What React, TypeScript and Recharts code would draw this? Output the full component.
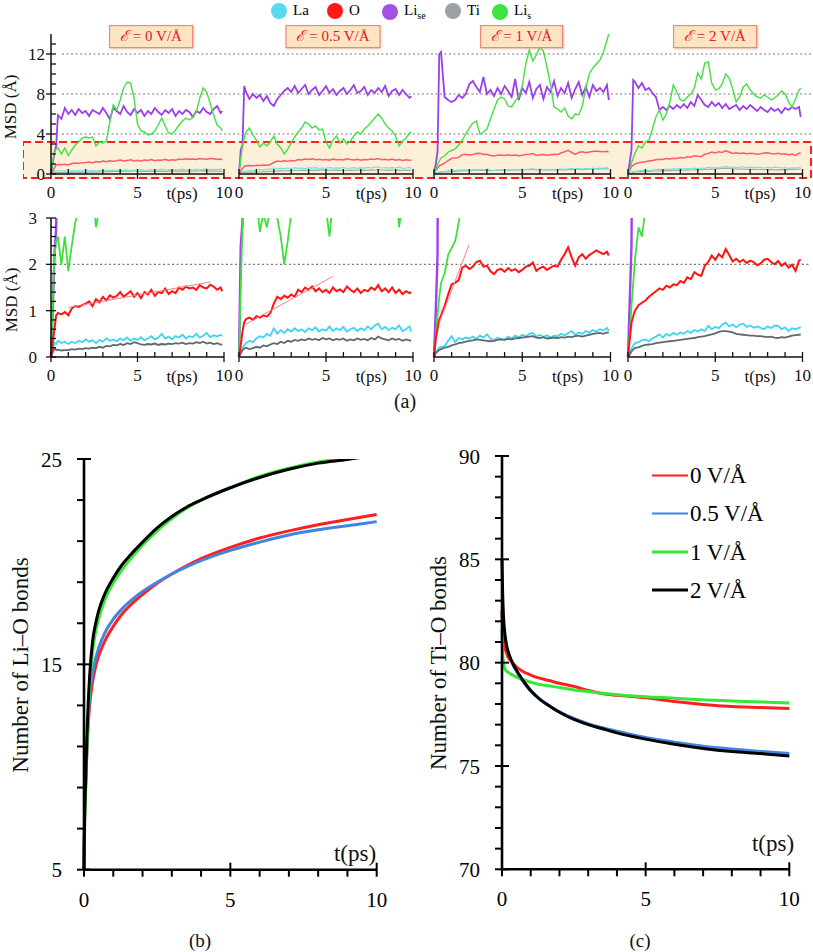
import React from 'react';
import { LineChart, Line, XAxis, YAxis, ReferenceLine, ReferenceArea } from 'recharts';

const FONT = '"Liberation Serif", "Times New Roman", serif';

// ---- (a) MSD runs, time grid in ps ----
const TIME = [0, 0.1, 0.2, 0.3, 0.4, 0.6, 0.8, 1, 1.2, 1.4, 1.6, 1.8, 2, 2.2, 2.4, 2.6, 2.8, 3, 3.2, 3.4, 3.6, 3.8, 4, 4.2, 4.4, 4.6, 4.8, 5, 5.2, 5.4, 5.6, 5.8, 6, 6.2, 6.4, 6.6, 6.8, 7, 7.2, 7.4, 7.6, 7.8, 8, 8.2, 8.4, 8.6, 8.8, 9, 9.2, 9.4, 9.6, 9.8, 9.9];

// E = 0 V/A
const LISE_0 = [0, 1.0, 2.2, 2.8, 5.9, 5.5, 6.6, 6.0, 6.4, 5.9, 6.5, 6.1, 6.3, 5.8, 6.4, 6.2, 6.0, 6.6, 6.1, 5.5, 6.6, 6.3, 6.0, 6.8, 6.2, 5.9, 6.5, 6.1, 6.4, 5.8, 6.3, 6.0, 6.6, 6.2, 5.9, 6.4, 6.1, 6.5, 5.8, 6.3, 6.0, 6.4, 6.2, 5.7, 6.3, 6.1, 6.6, 6.2, 6.0, 6.5, 6.8, 6.1, 6.3];
const LIS_0 = [0, 1.2, 2.2, 2.5, 2.6, 2.0, 2.6, 1.85, 2.4, 2.9, 3.2, 3.6, 3.7, 3.6, 3.7, 2.8, 3.2, 3.1, 3.3, 5.2, 6.9, 6.4, 7.4, 8.6, 9.2, 9.1, 7.6, 5.0, 4.3, 4.2, 3.9, 4.0, 4.3, 4.9, 5.6, 4.8, 4.1, 4.0, 4.4, 4.9, 5.3, 5.6, 5.4, 5.7, 6.2, 7.6, 8.6, 8.2, 7.1, 5.9, 4.9, 4.6, 4.3];
const O_0 = [0, 0.3, 0.6, 0.9, 0.95, 0.92, 0.97, 0.9, 1.05, 1.1, 1.08, 1.12, 1.15, 1.2, 1.1, 1.25, 1.18, 1.3, 1.22, 1.33, 1.28, 1.32, 1.4, 1.3, 1.36, 1.42, 1.3, 1.38, 1.27, 1.4, 1.35, 1.45, 1.32, 1.4, 1.38, 1.48, 1.36, 1.42, 1.38, 1.5, 1.45, 1.52, 1.48, 1.5, 1.45, 1.55, 1.5, 1.48, 1.56, 1.52, 1.45, 1.5, 1.42];
const LA_0 = [0, 0.15, 0.3, 0.28, 0.35, 0.3, 0.33, 0.28, 0.33, 0.3, 0.35, 0.32, 0.38, 0.33, 0.36, 0.3, 0.37, 0.33, 0.4, 0.35, 0.38, 0.34, 0.4, 0.36, 0.42, 0.35, 0.4, 0.37, 0.43, 0.36, 0.4, 0.45, 0.38, 0.42, 0.5, 0.4, 0.44, 0.38, 0.45, 0.42, 0.48, 0.4, 0.45, 0.43, 0.5, 0.42, 0.46, 0.52, 0.43, 0.47, 0.44, 0.48, 0.45];
const TI_0 = [0, 0.1, 0.18, 0.15, 0.16, 0.14, 0.15, 0.15, 0.17, 0.16, 0.18, 0.17, 0.19, 0.18, 0.2, 0.19, 0.22, 0.2, 0.24, 0.23, 0.26, 0.25, 0.28, 0.26, 0.3, 0.28, 0.32, 0.3, 0.27, 0.26, 0.28, 0.27, 0.29, 0.26, 0.28, 0.27, 0.29, 0.28, 0.3, 0.29, 0.31, 0.28, 0.3, 0.29, 0.32, 0.3, 0.33, 0.29, 0.31, 0.28, 0.3, 0.27, 0.26];

// E = 0.5 V/A
const LISE_05 = [0, 2.4, 2.9, 8.8, 8.2, 7.5, 8.0, 7.6, 7.9, 7.3, 7.8, 7.1, 6.8, 7.5, 7.9, 8.3, 8.6, 8.2, 8.8, 8.1, 8.5, 8.9, 8.0, 8.4, 8.7, 7.9, 8.3, 8.8, 8.1, 8.5, 7.9, 8.3, 8.6, 8.0, 8.4, 8.9, 8.1, 8.3, 8.7, 7.9, 8.4, 8.1, 8.6, 8.2, 8.8, 7.8, 8.3, 8.5, 7.9, 8.4, 8.0, 7.6, 7.8];
const LIS_05 = [0, 1.5, 2.8, 3.6, 4.2, 4.6, 3.9, 3.4, 2.7, 3.1, 2.8, 3.2, 3.8, 3.0, 2.6, 2.0, 2.5, 3.1, 3.7, 4.2, 4.6, 5.2, 5.0, 4.6, 4.8, 4.4, 4.5, 3.2, 2.6, 3.4, 3.8, 3.1, 3.5, 3.0, 3.3, 3.8, 4.2, 4.0, 4.5, 4.8, 5.2, 5.6, 6.0, 5.6, 5.0, 4.6, 4.3, 3.8, 2.8, 3.3, 3.6, 4.1, 4.2];
const O_05 = [0, 0.25, 0.55, 0.75, 0.82, 0.85, 0.8, 0.88, 0.85, 0.9, 0.87, 0.95, 1.15, 1.3, 1.25, 1.32, 1.28, 1.35, 1.3, 1.45, 1.4, 1.5, 1.45, 1.52, 1.42, 1.48, 1.4, 1.45, 1.38, 1.5, 1.42, 1.46, 1.4, 1.52, 1.45, 1.4, 1.48, 1.38, 1.45, 1.42, 1.5, 1.45, 1.55, 1.42, 1.48, 1.4, 1.5, 1.38, 1.45, 1.36, 1.42, 1.38, 1.4];
const LA_05 = [0, 0.1, 0.2, 0.25, 0.3, 0.35, 0.32, 0.4, 0.45, 0.42, 0.5, 0.46, 0.62, 0.5, 0.58, 0.52, 0.6, 0.55, 0.62, 0.56, 0.6, 0.54, 0.62, 0.58, 0.64, 0.55, 0.6, 0.57, 0.66, 0.56, 0.62, 0.58, 0.65, 0.55, 0.6, 0.63, 0.56, 0.62, 0.58, 0.66, 0.6, 0.68, 0.72, 0.6, 0.65, 0.58, 0.63, 0.6, 0.68, 0.56, 0.6, 0.66, 0.55];
const TI_05 = [0, 0.08, 0.15, 0.18, 0.2, 0.17, 0.19, 0.22, 0.2, 0.25, 0.23, 0.27, 0.3, 0.28, 0.33, 0.3, 0.35, 0.33, 0.37, 0.35, 0.38, 0.36, 0.4, 0.37, 0.39, 0.36, 0.41, 0.38, 0.4, 0.36, 0.39, 0.37, 0.4, 0.35, 0.38, 0.36, 0.4, 0.37, 0.39, 0.36, 0.41, 0.38, 0.44, 0.4, 0.38, 0.36, 0.4, 0.37, 0.39, 0.35, 0.38, 0.36, 0.35];

// E = 1 V/A
const LISE_1 = [0, 1.0, 2.2, 12.0, 12.2, 7.7, 7.4, 7.2, 7.4, 7.9, 7.6, 8.0, 9.0, 9.3, 8.7, 8.2, 9.7, 8.0, 8.4, 7.8, 8.6, 8.0, 8.8, 8.3, 7.7, 9.5, 7.4, 8.6, 8.1, 9.2, 7.6, 8.5, 8.9, 7.5, 8.7, 8.2, 9.3, 7.8, 8.6, 8.1, 9.1, 7.6, 8.5, 9.2, 7.9, 8.7, 7.7, 8.9, 8.3, 8.6, 8.2, 8.9, 7.4];
const LIS_1 = [0, 0.4, 0.9, 1.3, 1.6, 1.8, 2.2, 2.35, 2.5, 2.9, 3.4, 4.0, 4.6, 5.1, 5.3, 4.0, 4.2, 4.5, 5.5, 6.5, 7.4, 7.7, 7.5, 6.8, 6.7, 7.3, 7.7, 8.8, 11.0, 12.4, 11.3, 11.9, 12.7, 12.3, 10.7, 9.0, 6.7, 6.5, 6.2, 6.6, 5.8, 5.5, 6.0, 5.9, 6.8, 8.6, 10.0, 10.6, 11.0, 11.4, 12.2, 13.4, 14.0];
const O_1 = [0, 0.38, 0.6, 0.81, 0.9, 1.1, 1.35, 1.57, 1.6, 1.66, 1.93, 1.97, 1.9, 1.95, 2.05, 2.08, 1.95, 1.97, 1.85, 1.79, 1.88, 1.9, 1.84, 1.92, 1.86, 1.9, 1.83, 1.88, 1.95, 1.97, 2.04, 1.86, 1.92, 1.95, 1.88, 1.93, 1.97, 1.95, 2.1, 2.22, 2.37, 2.15, 1.97, 2.15, 2.22, 2.12, 2.2, 2.25, 2.3, 2.26, 2.22, 2.27, 2.19];
const LA_1 = [0, 0.09, 0.15, 0.2, 0.22, 0.23, 0.35, 0.45, 0.32, 0.41, 0.38, 0.42, 0.4, 0.44, 0.39, 0.46, 0.42, 0.49, 0.4, 0.36, 0.42, 0.38, 0.38, 0.44, 0.4, 0.46, 0.42, 0.48, 0.44, 0.5, 0.52, 0.44, 0.48, 0.43, 0.47, 0.42, 0.46, 0.45, 0.5, 0.47, 0.52, 0.56, 0.48, 0.53, 0.5, 0.56, 0.52, 0.58, 0.55, 0.6, 0.57, 0.63, 0.56];
const TI_1 = [0, 0.09, 0.12, 0.15, 0.17, 0.2, 0.22, 0.25, 0.27, 0.3, 0.31, 0.33, 0.35, 0.36, 0.38, 0.37, 0.36, 0.35, 0.34, 0.35, 0.37, 0.38, 0.37, 0.39, 0.38, 0.4, 0.41, 0.42, 0.43, 0.44, 0.45, 0.42, 0.41, 0.43, 0.4, 0.41, 0.42, 0.41, 0.43, 0.42, 0.44, 0.43, 0.45, 0.46, 0.44, 0.46, 0.48, 0.5, 0.51, 0.52, 0.5, 0.53, 0.52];

// E = 2 V/A
const LISE_2 = [0, 1.2, 2.4, 9.4, 9.2, 8.6, 9.1, 8.4, 8.6, 8.1, 7.7, 6.4, 6.7, 6.4, 6.8, 6.5, 6.9, 6.6, 7.0, 6.6, 7.2, 6.8, 7.9, 7.4, 6.9, 6.7, 7.2, 6.8, 7.1, 6.6, 7.0, 6.5, 6.7, 6.9, 6.4, 6.8, 6.5, 6.9, 6.6, 6.3, 6.7, 6.4, 6.2, 6.6, 6.3, 6.5, 6.1, 6.6, 6.4, 6.7, 6.5, 6.7, 5.7];
const LIS_2 = [0, 0.5, 1.1, 1.6, 2.1, 2.8, 2.6, 3.2, 3.4, 4.5, 5.7, 6.4, 5.4, 6.0, 7.2, 8.9, 8.2, 7.4, 7.3, 7.7, 8.0, 8.6, 10.1, 9.5, 11.1, 11.2, 9.1, 8.4, 8.5, 9.0, 10.0, 9.6, 8.5, 7.2, 7.7, 8.7, 9.0, 8.4, 8.0, 7.7, 7.6, 7.9, 7.7, 7.4, 7.6, 7.9, 8.3, 8.0, 7.2, 6.7, 7.5, 8.4, 8.6];
const O_2 = [0, 0.38, 0.74, 0.88, 1.0, 1.12, 1.17, 1.22, 1.3, 1.36, 1.42, 1.48, 1.45, 1.54, 1.5, 1.57, 1.55, 1.64, 1.6, 1.72, 1.68, 1.83, 1.78, 1.75, 1.97, 2.05, 2.19, 2.1, 2.22, 2.15, 2.33, 2.2, 2.06, 2.12, 2.05, 2.1, 2.03, 2.08, 2.05, 1.98, 2.02, 2.1, 2.12, 2.05, 2.0, 2.07, 1.97, 2.03, 1.93, 1.99, 1.86, 2.08, 2.1];
const LA_2 = [0, 0.09, 0.18, 0.25, 0.3, 0.32, 0.36, 0.38, 0.34, 0.4, 0.44, 0.49, 0.42, 0.5, 0.46, 0.52, 0.48, 0.53, 0.5, 0.56, 0.52, 0.58, 0.55, 0.6, 0.56, 0.67, 0.6, 0.65, 0.62, 0.7, 0.74, 0.66, 0.7, 0.64, 0.7, 0.72, 0.65, 0.68, 0.63, 0.66, 0.63, 0.6, 0.66, 0.62, 0.68, 0.67, 0.6, 0.64, 0.56, 0.62, 0.6, 0.63, 0.64];
const TI_2 = [0, 0.05, 0.12, 0.16, 0.2, 0.21, 0.24, 0.26, 0.27, 0.28, 0.3, 0.31, 0.32, 0.33, 0.34, 0.35, 0.36, 0.37, 0.38, 0.39, 0.4, 0.41, 0.43, 0.44, 0.45, 0.47, 0.49, 0.51, 0.54, 0.56, 0.56, 0.55, 0.53, 0.5, 0.49, 0.48, 0.47, 0.46, 0.46, 0.45, 0.45, 0.44, 0.43, 0.44, 0.42, 0.41, 0.43, 0.42, 0.44, 0.46, 0.47, 0.48, 0.49];

// thin linear fits on the O curves (start/end)
const FIT_0 = [{ t: 1.0, v: 1.07 }, { t: 9.2, v: 1.62 }];
const FIT_05 = [{ t: 0.4, v: 0.71 }, { t: 5.4, v: 1.74 }];
const FIT_1 = [{ t: 0.3, v: 0.74 }, { t: 1.98, v: 2.42 }];

const FIELDS = ['0', '0.5', '1', '2'];

const SPECIES = [
  { name: 'La', sub: '', color: '#5ad8ee' },
  { name: 'O', sub: '', color: '#ff1a1a' },
  { name: 'Li', sub: 'se', color: '#a452e6' },
  { name: 'Ti', sub: '', color: '#9aa2a5' },
  { name: 'Li', sub: 's', color: '#3fe23f' },
];

// ---- (b), (c) bond counts ----
const BOND_TIME = [0, 0.02, 0.05, 0.1, 0.15, 0.2, 0.3, 0.4, 0.5, 0.7, 1, 1.3, 1.6, 2, 2.5, 3, 3.5, 4, 5, 6, 7, 8, 9, 10];
const LIO_0 = [5, 7.5, 8.8, 10.8, 12.2, 13.1, 14.2, 14.9, 15.4, 16.1, 16.85, 17.45, 17.9, 18.4, 18.95, 19.4, 19.8, 20.15, 20.7, 21.15, 21.5, 21.8, 22.05, 22.3];
const LIO_05 = [5, 7.6, 9.0, 11.0, 12.5, 13.5, 14.6, 15.3, 15.8, 16.5, 17.2, 17.7, 18.1, 18.55, 19.0, 19.4, 19.75, 20.05, 20.55, 20.95, 21.3, 21.55, 21.75, 21.95];
const LIO_1 = [5, 7.0, 8.6, 11.0, 12.8, 14.1, 15.7, 16.6, 17.2, 18.1, 18.95, 19.6, 20.15, 20.8, 21.5, 22.1, 22.6, 23.0, 23.6, 24.15, 24.55, 24.85, 25.05, 25.3];
const LIO_2 = [5, 7.5, 9.0, 11.5, 13.3, 14.6, 16.2, 17.0, 17.6, 18.4, 19.2, 19.85, 20.35, 20.95, 21.65, 22.2, 22.65, 23.0, 23.6, 24.1, 24.5, 24.8, 24.98, 25.2];

const TIO_0 = [82.5, 81.8, 81.2, 80.7, 80.5, 80.3, 80.1, 79.95, 79.8, 79.6, 79.4, 79.25, 79.15, 79.0, 78.85, 78.65, 78.5, 78.42, 78.3, 78.12, 77.98, 77.88, 77.83, 77.78];
const TIO_05 = [82.5, 82.0, 81.6, 81.2, 80.8, 80.55, 80.15, 79.85, 79.6, 79.15, 78.62, 78.25, 77.95, 77.62, 77.3, 77.05, 76.85, 76.68, 76.38, 76.15, 75.95, 75.82, 75.7, 75.6];
const TIO_1 = [81.6, 80.6, 80.0, 79.7, 79.6, 79.55, 79.45, 79.38, 79.3, 79.2, 79.05, 78.95, 78.88, 78.8, 78.68, 78.6, 78.52, 78.45, 78.35, 78.28, 78.2, 78.15, 78.1, 78.05];
const TIO_2 = [85.0, 83.5, 82.3, 81.4, 80.9, 80.6, 80.2, 79.9, 79.65, 79.2, 78.65, 78.25, 77.95, 77.6, 77.25, 77.0, 76.8, 76.6, 76.3, 76.05, 75.85, 75.7, 75.6, 75.48];

const BOND_SERIES = [
  { key: 'e0', label: '0 V/Å', color: '#ff1f1f', legendWidth: 2 },
  { key: 'e05', label: '0.5 V/Å', color: '#3f86e0', legendWidth: 1.5 },
  { key: 'e1', label: '1 V/Å', color: '#36e836', legendWidth: 3 },
  { key: 'e2', label: '2 V/Å', color: '#000000', legendWidth: 3.5 },
];

const X_TICKS = [0, 1, 2, 3, 4, 5, 6, 7, 8, 9, 10];
const Y_TICKS_TOP = [0, 1, 2, 3, 4, 5, 6, 7, 8, 9, 10, 11, 12, 13];
const Y_TICKS_LOW = [0, 0.2, 0.4, 0.6, 0.8, 1, 1.2, 1.4, 1.6, 1.8, 2, 2.2, 2.4, 2.6, 2.8, 3];
const LIO_TICKS = [5, 7, 9, 11, 13, 15, 17, 19, 21, 23, 25];
const LIO_LABELS = [5, 15, 25];
const TIO_TICKS = [70, 71, 72, 73, 74, 75, 76, 77, 78, 79, 80, 81, 82, 83, 84, 85, 86, 87, 88, 89, 90];
const TIO_LABELS = [70, 75, 80, 85, 90];
const GRID_TOP = [4, 8, 12];
const GRID_LOW = [2];
const T_RANGE = [{ t: 0 }, { t: 10 }];

// ---- layout ----
const PANEL_X = [[50.5, 223.5], [239, 413], [433.5, 610], [627.5, 802]];
const TOP_ROW = { top: 34, bottom: 174, max: 14 };
const LOW_ROW = { top: 218, bottom: 357, max: 3 };

const TOP_LINES = [
  { key: 'ti', color: '#a3abab', width: 1.2 },
  { key: 'la', color: '#74e0e0', width: 1.2 },
  { key: 'o', color: '#ff5a6e', width: 1.5 },
  { key: 'lise', color: '#9b40e8', width: 1.8 },
  { key: 'lis', color: '#45e045', width: 1.4 },
];
const LOW_LINES = [
  { key: 'la', color: '#3dd5f3', width: 1.8 },
  { key: 'ti', color: '#5d6972', width: 1.8 },
  { key: 'lise', color: '#a040ee', width: 2.4 },
  { key: 'lis', color: '#3ee03e', width: 1.8 },
  { key: 'o', color: '#ff1414', width: 2 },
];

const msdRows = (la: number[], o: number[], lise: number[], ti: number[], lis: number[]) =>
  TIME.map((t, i) => ({ t, la: la[i], o: o[i], lise: lise[i], ti: ti[i], lis: lis[i] }));

const MSD = [
  msdRows(LA_0, O_0, LISE_0, TI_0, LIS_0),
  msdRows(LA_05, O_05, LISE_05, TI_05, LIS_05),
  msdRows(LA_1, O_1, LISE_1, TI_1, LIS_1),
  msdRows(LA_2, O_2, LISE_2, TI_2, LIS_2),
];
const FITS = [FIT_0, FIT_05, FIT_1, null];

const bondRows = (a: number[], b: number[], c: number[], d: number[]) =>
  BOND_TIME.map((t, i) => ({ t, e0: a[i], e05: b[i], e1: c[i], e2: d[i] }));
const LIO = bondRows(LIO_0, LIO_05, LIO_1, LIO_2);
const TIO = bondRows(TIO_0, TIO_05, TIO_1, TIO_2);

// ---- ticks ----
const xTickA = (p: any) => {
  const v = p.payload.value;
  const major = v % 5 === 0;
  return (
    <g>
      <line x1={p.x} x2={p.x} y1={p.y - 5} y2={major ? p.y + 5 : p.y} stroke="#111" strokeWidth={1.3} />
      {major && (
        <text x={p.x} y={p.y + 24} textAnchor="middle" fontSize={17} fontFamily={FONT} fill="#111">{v}</text>
      )}
    </g>
  );
};

const yTickA = (every: number, gap: number) => (p: any) => {
  const v = p.payload.value;
  const major = Math.abs(v / every - Math.round(v / every)) < 1e-6;
  return (
    <g>
      <line x1={major ? p.x - 5 : p.x} x2={p.x + 5} y1={p.y} y2={p.y} stroke="#111" strokeWidth={1.3} />
      {major && (
        <text x={p.x - gap} y={p.y} dy="0.35em" textAnchor="end" fontSize={17} fontFamily={FONT} fill="#111">{v}</text>
      )}
    </g>
  );
};

const xTickB = (p: any) => {
  const v = p.payload.value;
  const major = v % 5 === 0;
  return (
    <g>
      <line x1={p.x} x2={p.x} y1={major ? p.y - 7 : p.y} y2={p.y + 7} stroke="#000" strokeWidth={2} />
      {major && (
        <text x={p.x} y={p.y + 37} textAnchor="middle" fontSize={21} fontFamily={FONT} fill="#000">{v}</text>
      )}
    </g>
  );
};

const yTickB = (labels: number[]) => (p: any) => {
  const v = p.payload.value;
  const major = labels.includes(v);
  return (
    <g>
      <line x1={p.x - 7} x2={major ? p.x + 7 : p.x} y1={p.y} y2={p.y} stroke="#000" strokeWidth={2} />
      {major && (
        <text x={p.x - 22} y={p.y} dy="0.36em" textAnchor="end" fontSize={21} fontFamily={FONT} fill="#000">{v}</text>
      )}
    </g>
  );
};

const Txt = ({ x, y, size, rotate = 0, children, style }: any) => (
  <div
    style={{
      position: 'absolute', left: x, top: y, fontSize: size, lineHeight: 1, whiteSpace: 'nowrap',
      fontFamily: FONT, color: '#111', transform: `translate(-50%, -50%) rotate(${rotate}deg)`, ...style,
    }}
  >
    {children}
  </div>
);

function MsdPanel({ idx, row, low }: any) {
  const [x0, x1] = PANEL_X[idx];
  const first = idx === 0;
  const yw = first ? 40 : 0;
  const ml = 12, mr = 14, mt = 12, xh = 30;
  const lines = low ? LOW_LINES : TOP_LINES;
  const fit = low ? FITS[idx] : null;
  return (
    <div style={{ position: 'absolute', left: x0 - ml - yw, top: row.top - mt }}>
      <LineChart
        width={x1 - x0 + ml + mr + yw}
        height={row.bottom - row.top + mt + xh}
        data={MSD[idx]}
        margin={{ top: mt, right: mr, bottom: 0, left: ml }}
      >
        <XAxis
          dataKey="t" type="number" domain={[0, 10]} ticks={X_TICKS} interval={0} height={xh}
          tickSize={0} tickMargin={0} tickLine={false}
          axisLine={{ stroke: '#111', strokeWidth: 1.5 }} tick={xTickA}
        />
        <YAxis
          type="number" domain={[0, row.max]} allowDataOverflow hide={!first} width={yw}
          ticks={low ? Y_TICKS_LOW : Y_TICKS_TOP} interval={0} tickSize={0} tickMargin={0} tickLine={false}
          axisLine={{ stroke: '#111', strokeWidth: 1.5 }} tick={low ? yTickA(1, 14) : yTickA(4, 6)}
        />
        {lines.map((l) => (
          <Line key={l.key} dataKey={l.key} type="linear" stroke={l.color} strokeWidth={l.width}
            dot={false} isAnimationActive={false} />
        ))}
        {fit && (
          <Line data={fit} dataKey="v" type="linear" stroke="#ff7a8c" strokeWidth={1}
            dot={false} isAnimationActive={false} />
        )}
      </LineChart>
    </div>
  );
}

function Backdrop({ left, right, row, children }: any) {
  const pad = 8;
  return (
    <div style={{ position: 'absolute', left, top: row.top - pad }}>
      <LineChart width={right - left} height={row.bottom - row.top + pad * 2} data={T_RANGE}
        margin={{ top: pad, right: 1, bottom: pad, left: 0 }}>
        <XAxis type="number" dataKey="t" domain={[0, 10]} allowDataOverflow hide />
        <YAxis type="number" domain={[0, row.max]} allowDataOverflow hide />
        {children}
      </LineChart>
    </div>
  );
}

function BondPanel({ data, x0, x1, top, bottom, domain, ticks, labels, order }: any) {
  const yw = 60, mr = 22, mt = 14, xh = 46;
  return (
    <div style={{ position: 'absolute', left: x0 - yw, top: top - mt }}>
      <LineChart width={x1 - x0 + yw + mr} height={bottom - top + mt + xh} data={data}
        margin={{ top: mt, right: mr, bottom: 0, left: 0 }}>
        <XAxis dataKey="t" type="number" domain={[0, 10]} ticks={X_TICKS} interval={0} height={xh}
          tickSize={0} tickMargin={0} tickLine={false}
          axisLine={{ stroke: '#000', strokeWidth: 2.6 }} tick={xTickB} />
        <YAxis type="number" domain={domain} allowDataOverflow width={yw} ticks={ticks} interval={0}
          tickSize={0} tickMargin={0} tickLine={false}
          axisLine={{ stroke: '#000', strokeWidth: 2.6 }} tick={yTickB(labels)} />
        {order.map((k: string) => {
          const s = BOND_SERIES.find((b) => b.key === k)!;
          return (
            <Line key={k} dataKey={k} name={s.label} type="monotone" stroke={s.color} strokeWidth={3}
              dot={false} isAnimationActive={false} />
          );
        })}
      </LineChart>
    </div>
  );
}

const BOX_CENTERS = [151, 333, 521.5, 715];

export default function App() {
  return (
    <div style={{ position: 'absolute', left: 0, top: 0, width: 813, height: 952, background: '#fff', fontFamily: FONT, overflow: 'hidden' }}>
      {/* highlighted low-MSD band and dotted guides */}
      <Backdrop left={23} right={812} row={TOP_ROW}>
        <ReferenceArea y1={-0.4} y2={3.2} ifOverflow="visible" fill="#fcf1d8" fillOpacity={1}
          stroke="#ff1e1e" strokeDasharray="8 4" strokeWidth={2} />
      </Backdrop>
      <Backdrop left={62} right={812} row={TOP_ROW}>
        {GRID_TOP.map((g) => (
          <ReferenceLine key={g} y={g} stroke="#7a7a7a" strokeDasharray="2 2.5" strokeWidth={1.2} />
        ))}
      </Backdrop>
      <Backdrop left={55} right={812} row={LOW_ROW}>
        {GRID_LOW.map((g) => (
          <ReferenceLine key={g} y={g} stroke="#7a7a7a" strokeDasharray="2 2.5" strokeWidth={1.2} />
        ))}
      </Backdrop>

      {FIELDS.map((f, i) => <MsdPanel key={'t' + f} idx={i} row={TOP_ROW} low={false} />)}
      {FIELDS.map((f, i) => <MsdPanel key={'l' + f} idx={i} row={LOW_ROW} low={true} />)}

      {/* species legend */}
      {SPECIES.map((s, i) => {
        const cx = [279, 335, 390, 453, 500][i];
        return (
          <div key={i} style={{ position: 'absolute', left: cx - 8, top: 2, display: 'flex', alignItems: 'center', fontSize: 15 }}>
            <span style={{ width: 16, height: 16, borderRadius: 8, background: s.color, display: 'inline-block', marginRight: 6 }} />
            <span>{s.name}{s.sub && <sub style={{ fontSize: 10 }}>{s.sub}</sub>}</span>
          </div>
        );
      })}

      {/* field annotation boxes */}
      {FIELDS.map((f, i) => (
        <div key={'b' + f} style={{
          position: 'absolute', left: BOX_CENTERS[i], top: 36.5, transform: 'translate(-50%, -50%)',
          background: '#fde5c4', border: '1.5px solid #f07a68', padding: '3px 10px', fontSize: 15,
          color: '#e8141e', whiteSpace: 'nowrap', lineHeight: 1.05, boxShadow: '1px 1px 2px rgba(200,120,90,0.5)',
        }}>
          <i>ℰ</i> = {f} V/Å
        </div>
      ))}

      {[0, 1, 2, 3].map((i) => {
        const [x0, x1] = PANEL_X[i];
        const tx = x0 + 0.76 * (x1 - x0);
        return (
          <React.Fragment key={'tp' + i}>
            <Txt x={tx} y={TOP_ROW.bottom + 19} size={17}>t(ps)</Txt>
            <Txt x={tx} y={LOW_ROW.bottom + 19} size={17}>t(ps)</Txt>
          </React.Fragment>
        );
      })}
      <Txt x={10} y={107} size={17} rotate={-90}>MSD (Å)</Txt>
      <Txt x={11} y={300} size={17} rotate={-90}>MSD (Å)</Txt>
      <Txt x={405} y={401} size={20}>(a)</Txt>

      {/* (b) Li-O bonds */}
      <BondPanel data={LIO} x0={84} x1={376.7} top={459.3} bottom={870} domain={[5, 25]}
        ticks={LIO_TICKS} labels={LIO_LABELS} order={['e0', 'e05', 'e1', 'e2']} />
      <Txt x={20} y={665} size={23} rotate={-90}>Number of Li–O bonds</Txt>
      <Txt x={355} y={853} size={23}>t(ps)</Txt>
      <Txt x={200} y={940} size={19}>(b)</Txt>

      {/* (c) Ti-O bonds */}
      <BondPanel data={TIO} x0={501.7} x1={789} top={456} bottom={869.3} domain={[70, 90]}
        ticks={TIO_TICKS} labels={TIO_LABELS} order={['e05', 'e0', 'e1', 'e2']} />
      <Txt x={438} y={663} size={23} rotate={-90}>Number of Ti–O bonds</Txt>
      <Txt x={773} y={843} size={23}>t(ps)</Txt>
      <Txt x={640} y={940} size={19}>(c)</Txt>

      {BOND_SERIES.map((s, i) => (
        <div key={s.key} style={{ position: 'absolute', left: 652, top: 475 + i * 38.3, transform: 'translateY(-50%)', display: 'flex', alignItems: 'center', fontSize: 23, lineHeight: 1 }}>
          <span style={{ width: 36, height: s.legendWidth, background: s.color, display: 'inline-block', marginRight: 2 }} />
          <span>{s.label}</span>
        </div>
      ))}
    </div>
  );
}
